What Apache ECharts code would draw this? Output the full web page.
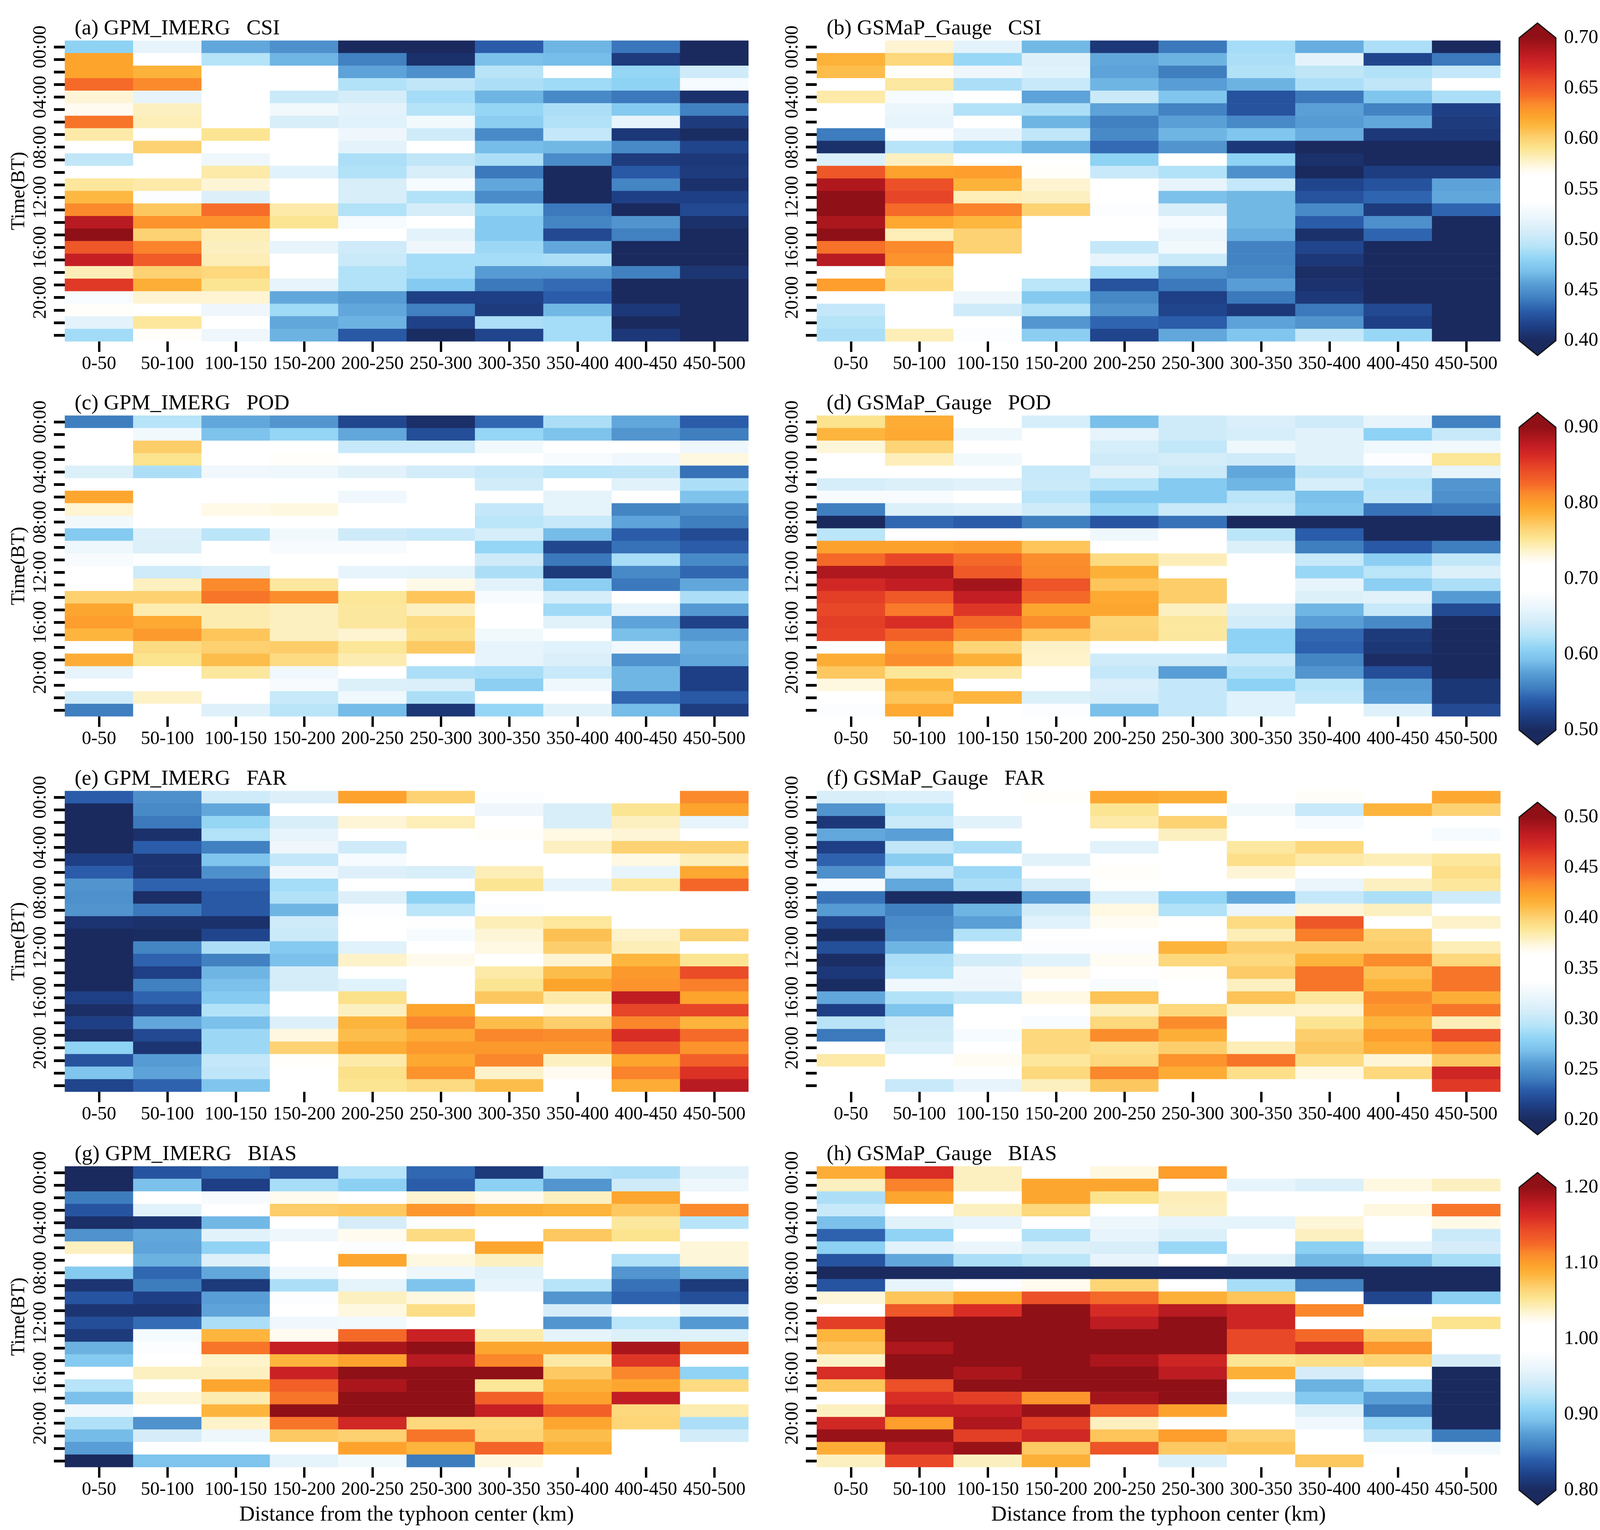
<!DOCTYPE html>
<html><head><meta charset="utf-8">
<style>html,body{margin:0;padding:0;background:#fff}#c{width:4131px;height:3917px}</style>
<script src="https://cdn.jsdelivr.net/npm/echarts@6/dist/echarts.min.js"></script>
</head><body><div id="c"></div>
<script>
const distanceBins=["0-50","50-100","100-150","150-200","200-250","250-300","300-350","350-400","400-450","450-500"];
const timeBins=[];for(let h=0;h<24;h++)timeBins.push(String(h).padStart(2,"0")+":00");
const csiGpm=[
[.48,.52,.46,.45,.40,.40,.43,.465,.439,.40],
[.622,.55,.493,.465,.443,.405,.47,.468,.412,.40],
[.622,.615,.55,.55,.458,.45,.495,.55,.483,.505],
[.643,.634,.55,.55,.492,.498,.49,.486,.48,.53],
[.575,.52,.55,.503,.508,.488,.465,.447,.44,.405],
[.568,.58,.55,.527,.518,.493,.483,.49,.475,.443],
[.64,.582,.55,.51,.515,.527,.478,.492,.52,.412],
[.585,.55,.59,.56,.525,.505,.447,.50,.41,.402],
[.555,.60,.558,.55,.518,.55,.468,.466,.447,.418],
[.498,.55,.525,.55,.49,.498,.49,.448,.412,.41],
[.556,.55,.585,.515,.492,.51,.44,.40,.428,.412],
[.588,.585,.575,.55,.51,.53,.46,.40,.445,.405],
[.612,.535,.513,.55,.51,.492,.448,.40,.415,.415],
[.634,.605,.642,.585,.492,.508,.483,.44,.40,.42],
[.685,.63,.63,.59,.53,.55,.475,.445,.452,.405],
[.70,.60,.582,.55,.55,.518,.475,.42,.443,.40],
[.652,.636,.58,.52,.505,.525,.485,.46,.40,.40],
[.68,.65,.582,.55,.503,.488,.488,.49,.40,.40],
[.582,.60,.597,.558,.492,.488,.455,.455,.443,.408],
[.665,.617,.59,.52,.492,.475,.44,.435,.40,.40],
[.532,.576,.576,.46,.455,.415,.415,.43,.40,.40],
[.565,.558,.525,.486,.46,.443,.412,.466,.41,.40],
[.518,.588,.55,.46,.464,.416,.49,.488,.40,.40],
[.487,.565,.525,.464,.428,.402,.418,.488,.41,.40]];
const csiGsmap=[
[.55,.576,.518,.466,.41,.44,.488,.462,.49,.40],
[.615,.597,.484,.514,.46,.464,.49,.518,.418,.44],
[.61,.565,.525,.515,.458,.442,.492,.498,.492,.50],
[.55,.587,.49,.502,.465,.456,.464,.49,.498,.55],
[.585,.53,.55,.458,.503,.473,.425,.44,.472,.49],
[.55,.522,.492,.49,.458,.444,.425,.457,.444,.415],
[.55,.52,.55,.465,.443,.457,.447,.455,.46,.412],
[.441,.535,.52,.498,.447,.465,.473,.462,.41,.41],
[.405,.494,.485,.465,.435,.452,.41,.40,.40,.40],
[.512,.58,.55,.55,.48,.55,.48,.405,.40,.40],
[.652,.623,.625,.565,.502,.492,.45,.40,.413,.413],
[.688,.655,.615,.576,.55,.52,.50,.418,.425,.458],
[.70,.66,.582,.58,.55,.47,.466,.425,.433,.46],
[.70,.643,.636,.60,.535,.51,.466,.447,.412,.433],
[.69,.62,.613,.55,.55,.53,.466,.43,.45,.40],
[.70,.582,.60,.55,.562,.522,.462,.405,.433,.40],
[.641,.634,.60,.55,.50,.527,.444,.418,.40,.40],
[.685,.63,.562,.55,.52,.503,.444,.41,.40,.40],
[.55,.592,.55,.55,.488,.45,.446,.403,.40,.40],
[.625,.595,.558,.496,.425,.44,.456,.406,.40,.40],
[.55,.55,.525,.475,.446,.415,.44,.41,.40,.40],
[.50,.55,.505,.492,.452,.418,.41,.44,.42,.40],
[.493,.55,.55,.453,.433,.43,.458,.452,.415,.40],
[.49,.582,.535,.478,.418,.46,.473,.50,.484,.40]];
const podGpm=[
[.556,.625,.58,.57,.525,.505,.545,.62,.58,.54],
[.70,.67,.595,.61,.58,.53,.61,.595,.57,.556],
[.70,.77,.70,.70,.635,.635,.67,.70,.69,.665],
[.715,.755,.70,.72,.70,.70,.70,.675,.668,.73],
[.65,.62,.668,.665,.655,.642,.635,.628,.63,.55],
[.685,.70,.70,.685,.70,.695,.642,.685,.655,.62],
[.795,.70,.685,.683,.668,.70,.685,.658,.70,.595],
[.735,.685,.728,.73,.712,.70,.633,.658,.56,.565],
[.67,.70,.70,.70,.70,.70,.628,.635,.578,.556],
[.60,.652,.628,.67,.64,.635,.645,.59,.54,.528],
[.665,.65,.70,.675,.675,.70,.61,.525,.55,.54],
[.675,.68,.70,.70,.70,.70,.64,.553,.618,.563],
[.70,.64,.648,.70,.66,.658,.62,.515,.563,.545],
[.70,.74,.812,.75,.70,.728,.655,.605,.553,.58],
[.768,.768,.82,.81,.752,.775,.675,.645,.70,.62],
[.795,.745,.745,.74,.75,.74,.69,.615,.658,.572],
[.80,.793,.745,.74,.75,.76,.70,.655,.578,.522],
[.785,.802,.775,.74,.735,.757,.67,.69,.592,.572],
[.70,.76,.768,.77,.752,.772,.66,.653,.668,.583],
[.79,.755,.78,.76,.745,.70,.66,.648,.568,.58],
[.66,.70,.75,.668,.685,.62,.618,.635,.587,.52],
[.70,.70,.685,.675,.65,.648,.605,.667,.587,.52],
[.64,.738,.70,.635,.667,.62,.70,.692,.545,.537],
[.556,.70,.652,.627,.59,.512,.61,.655,.59,.518]];
const podGsmap=[
[.755,.79,.70,.645,.592,.64,.648,.64,.66,.558],
[.785,.793,.665,.70,.66,.64,.645,.655,.607,.635],
[.733,.765,.70,.70,.645,.632,.665,.655,.667,.67],
[.70,.742,.67,.70,.64,.643,.64,.655,.68,.752],
[.70,.685,.70,.635,.655,.637,.58,.63,.64,.66],
[.645,.65,.655,.637,.625,.60,.587,.645,.625,.57],
[.675,.675,.70,.628,.60,.60,.627,.593,.63,.567],
[.556,.65,.655,.64,.613,.638,.635,.598,.55,.553],
[.50,.545,.54,.556,.535,.55,.50,.50,.50,.50],
[.628,.715,.70,.70,.667,.70,.628,.54,.50,.50],
[.798,.798,.802,.775,.70,.70,.65,.556,.538,.556],
[.825,.845,.825,.81,.76,.742,.70,.635,.605,.632],
[.885,.885,.835,.812,.788,.70,.70,.612,.628,.65],
[.865,.875,.89,.838,.775,.77,.70,.66,.605,.62],
[.85,.835,.875,.825,.793,.77,.70,.65,.655,.573],
[.845,.818,.855,.795,.795,.74,.65,.587,.635,.528],
[.85,.86,.825,.81,.765,.75,.642,.575,.563,.50],
[.848,.83,.81,.775,.767,.75,.607,.545,.515,.50],
[.70,.802,.765,.738,.70,.70,.607,.542,.512,.50],
[.79,.81,.788,.737,.64,.64,.635,.56,.503,.50],
[.773,.752,.748,.70,.633,.575,.622,.57,.53,.50],
[.73,.785,.715,.70,.648,.633,.607,.628,.572,.512],
[.70,.775,.785,.65,.645,.633,.653,.633,.575,.512],
[.68,.793,.70,.68,.592,.633,.653,.70,.652,.527]];
const farGpm=[
[.23,.25,.305,.313,.423,.40,.335,.35,.35,.434],
[.20,.247,.26,.35,.35,.358,.325,.31,.39,.422],
[.20,.24,.283,.31,.375,.382,.35,.31,.38,.32],
[.20,.205,.292,.32,.35,.355,.365,.372,.375,.35],
[.20,.23,.243,.325,.305,.35,.35,.38,.40,.40],
[.215,.207,.272,.30,.33,.35,.35,.358,.372,.382],
[.23,.207,.25,.325,.313,.31,.382,.35,.32,.42],
[.252,.232,.232,.288,.35,.35,.39,.32,.388,.445],
[.25,.203,.228,.292,.313,.28,.35,.35,.338,.36],
[.252,.24,.228,.265,.335,.296,.335,.35,.35,.35],
[.207,.205,.205,.305,.35,.337,.382,.388,.35,.35],
[.20,.202,.218,.303,.34,.33,.375,.408,.378,.40],
[.20,.245,.29,.275,.315,.35,.372,.402,.382,.358],
[.20,.232,.243,.27,.378,.37,.358,.376,.413,.39],
[.20,.215,.265,.308,.35,.35,.385,.41,.427,.457],
[.20,.243,.27,.308,.315,.362,.39,.422,.43,.437],
[.215,.232,.275,.35,.392,.362,.405,.385,.482,.422],
[.203,.218,.292,.35,.38,.422,.35,.372,.46,.46],
[.215,.26,.27,.313,.414,.435,.41,.402,.435,.414],
[.203,.22,.285,.373,.41,.418,.435,.433,.47,.443],
[.28,.207,.285,.40,.418,.427,.427,.427,.45,.43],
[.225,.255,.30,.365,.385,.42,.435,.38,.422,.448],
[.272,.258,.297,.362,.392,.43,.378,.368,.436,.468],
[.218,.232,.272,.35,.39,.395,.41,.35,.418,.485]];
const farGsmap=[
[.31,.312,.345,.365,.42,.417,.35,.366,.35,.42],
[.252,.293,.358,.35,.39,.35,.327,.302,.414,.40],
[.21,.303,.316,.35,.385,.40,.35,.33,.35,.342],
[.26,.257,.35,.35,.35,.38,.35,.35,.35,.33],
[.215,.298,.29,.36,.316,.35,.387,.397,.35,.35],
[.232,.277,.35,.316,.35,.358,.393,.385,.382,.388],
[.25,.30,.285,.35,.365,.355,.375,.35,.35,.393],
[.33,.26,.29,.31,.364,.35,.35,.322,.38,.388],
[.238,.202,.202,.255,.312,.282,.26,.30,.29,.305],
[.255,.243,.265,.307,.372,.292,.322,.375,.38,.35],
[.218,.248,.257,.315,.367,.364,.395,.452,.35,.378],
[.202,.25,.292,.337,.35,.36,.382,.437,.40,.36],
[.223,.265,.35,.335,.335,.414,.402,.402,.402,.382],
[.203,.29,.307,.315,.367,.397,.397,.414,.433,.397],
[.21,.292,.326,.37,.35,.365,.403,.44,.408,.44],
[.202,.326,.325,.362,.333,.35,.38,.44,.414,.44],
[.26,.292,.30,.372,.407,.35,.407,.388,.433,.417],
[.215,.272,.35,.35,.38,.397,.378,.377,.427,.44],
[.295,.305,.35,.333,.397,.433,.356,.39,.414,.382],
[.24,.306,.33,.397,.433,.417,.356,.402,.425,.455],
[.35,.312,.358,.397,.393,.402,.382,.405,.417,.43],
[.385,.35,.367,.388,.397,.43,.44,.395,.375,.405],
[.357,.35,.35,.397,.435,.418,.393,.372,.397,.475],
[.35,.302,.32,.38,.405,.35,.35,.35,.35,.465]];
const biasGpm=[
[.80,.835,.845,.83,.925,.845,.815,.922,.92,.955],
[.80,.893,.82,.918,.905,.84,.905,.87,.94,.965],
[.855,1.00,.975,1.025,1.012,1.035,1.025,1.04,1.095,1.00],
[.835,.955,1.00,1.07,1.073,1.105,1.088,1.085,1.073,1.112],
[.805,.81,.888,1.00,.945,.98,1.00,1.00,1.05,.925],
[.868,.88,.955,.965,1.025,1.06,1.00,1.073,1.055,1.00],
[1.04,.878,.908,1.00,.98,1.00,1.095,1.00,1.02,1.033],
[1.00,.885,.952,1.01,1.095,1.03,1.04,.985,.922,1.033],
[.90,.845,.88,.967,1.00,.965,.955,1.00,.87,.885],
[.81,.855,.815,.92,.958,.895,.96,.925,.85,.815],
[.835,.82,.875,.98,1.04,1.03,1.00,.87,.843,.83],
[.81,.81,.878,1.00,1.03,1.058,1.018,.945,1.00,.95],
[.83,.848,.92,.968,.97,1.00,1.00,.87,.928,.872],
[.815,.972,1.085,1.025,1.125,1.17,1.045,.958,.95,.953],
[.885,.98,1.12,1.173,1.188,1.20,1.095,1.095,1.188,1.12],
[.90,1.00,1.037,1.085,1.097,1.18,1.113,1.048,1.155,1.00],
[1.018,1.04,1.04,1.17,1.20,1.20,1.20,1.072,1.113,.908],
[.925,1.018,1.095,1.13,1.187,1.20,1.052,1.088,1.095,1.06],
[.893,1.033,1.045,1.12,1.20,1.20,1.13,1.097,1.175,1.00],
[.968,.985,1.085,1.20,1.20,1.20,1.173,1.13,1.063,1.045],
[.922,.868,1.037,1.12,1.165,1.063,1.063,1.095,1.065,.92],
[.89,.945,.965,1.072,1.068,1.12,1.065,1.08,1.01,.942],
[.875,1.00,1.00,1.00,1.097,1.085,1.128,1.088,.988,1.00],
[.80,.895,.895,.958,.97,.855,1.03,1.00,1.005,1.008]];
const biasGsmap=[
[1.09,1.16,1.04,1.005,1.03,1.10,1.00,1.005,1.00,.985],
[1.04,1.115,1.04,1.095,1.095,1.00,.96,.95,1.03,1.04],
[.92,1.095,1.00,1.095,1.055,1.042,1.00,.988,1.00,1.00],
[.935,1.00,1.04,1.063,1.00,1.04,1.00,1.00,1.03,1.12],
[.893,.955,.96,1.00,.965,.96,.958,1.033,.995,1.028],
[.843,.908,1.00,.922,.96,.95,.99,1.04,1.00,.938],
[.905,.955,.963,.95,.947,.912,.995,.905,.958,.945],
[.835,.88,.92,.928,.96,1.00,.955,.888,.895,.918],
[.80,.80,.80,.80,.80,.80,.80,.80,.80,.80],
[.835,.96,.98,1.025,1.065,1.00,.918,.858,.80,.80],
[1.032,1.075,1.095,1.14,1.125,1.088,1.075,1.00,.825,.905],
[1.015,1.135,1.16,1.20,1.162,1.18,1.168,1.113,1.00,1.00],
[1.15,1.20,1.20,1.20,1.178,1.20,1.168,1.005,1.02,1.055],
[1.085,1.20,1.20,1.20,1.20,1.20,1.145,1.125,1.072,1.00],
[1.075,1.185,1.20,1.20,1.20,1.20,1.145,1.165,1.105,1.008],
[1.038,1.20,1.20,1.20,1.187,1.168,1.053,1.058,1.065,.945],
[1.16,1.20,1.187,1.20,1.20,1.178,1.088,.945,1.00,.80],
[1.075,1.14,1.20,1.20,1.20,1.20,.99,.885,.915,.80],
[1.00,1.16,1.15,1.105,1.19,1.20,.955,.90,.875,.80],
[1.04,1.175,1.175,1.195,1.13,1.097,1.00,.95,.855,.80],
[1.165,1.10,1.185,1.15,1.04,.99,1.00,.968,.915,.80],
[1.195,1.195,1.15,1.165,1.075,1.10,1.068,1.01,.932,.855],
[1.09,1.178,1.195,1.072,1.138,1.072,1.075,1.00,.98,.97],
[1.04,1.145,1.04,1.088,1.00,.95,1.01,1.073,1.00,1.00]];
const rampPositions=[0,.05,.10,.14,.19,.23,.27,.31,.36,.41,.46,.545,.57,.60,.635,.67,.71,.74,.78,.81,.86,.90,.935,.97,1];
const rampColors=["#1a2a5e","#1e3f85","#2a5caa","#3f7fc0","#5a9fd6","#7ac0ea","#90d3f5","#b5e3f8","#d5edf9","#ecf6fc","#ffffff","#ffffff","#fff9e8","#fdf0c0","#fce490","#fdd070","#fdb63e","#fda42d","#fb8a2c","#f56a28","#ea4a28","#d82d25","#c41e24","#a8161c","#8f1016"];

const FONT="Liberation Serif";
const LEFT_COL=166,RIGHT_COL=2091,GRID_W=1750,GRID_H=770;
const panels=[
 {t:"(a) GPM_IMERG   CSI",d:csiGpm,l:LEFT_COL,top:104,min:.4,max:.7},
 {t:"(b) GSMaP_Gauge   CSI",d:csiGsmap,l:RIGHT_COL,top:104,min:.4,max:.7},
 {t:"(c) GPM_IMERG   POD",d:podGpm,l:LEFT_COL,top:1064,min:.5,max:.9},
 {t:"(d) GSMaP_Gauge   POD",d:podGsmap,l:RIGHT_COL,top:1064,min:.5,max:.9},
 {t:"(e) GPM_IMERG   FAR",d:farGpm,l:LEFT_COL,top:2025,min:.2,max:.5},
 {t:"(f) GSMaP_Gauge   FAR",d:farGsmap,l:RIGHT_COL,top:2025,min:.2,max:.5},
 {t:"(g) GPM_IMERG   BIAS",d:biasGpm,l:LEFT_COL,top:2986,min:.8,max:1.2},
 {t:"(h) GSMaP_Gauge   BIAS",d:biasGsmap,l:RIGHT_COL,top:2986,min:.8,max:1.2}];
const colorbars=[
 {top:97,min:.4,max:.7,step:.05},
 {top:1094,min:.5,max:.9,step:.1},
 {top:2092,min:.2,max:.5,step:.05},
 {top:3040,min:.8,max:1.2,step:.1}];

function rampList(n){
 const out=[];
 for(let i=0;i<=n;i++){const p=i/n;let k=0;
  while(k<rampPositions.length-2&&p>rampPositions[k+1])k++;
  const f=(p-rampPositions[k])/(rampPositions[k+1]-rampPositions[k]);
  out.push(echarts.color.lerp(f,[rampColors[k],rampColors[k+1]]));}
 return out;
}
const list=rampList(200);
const grid=[],xAxis=[],yAxis=[],series=[],visualMap=[],title=[];
panels.forEach((p,i)=>{
 const isLeft=p.l===LEFT_COL,isBottom=i>=6;
 grid.push({left:p.l,top:p.top,width:GRID_W,height:GRID_H,containLabel:false});
 title.push({text:p.t,left:p.l+25,top:p.top-58,padding:0,textStyle:{fontFamily:FONT,fontSize:55,fontWeight:"normal",color:"#000"}});
 xAxis.push({type:"category",gridIndex:i,data:distanceBins,position:"bottom",
  axisLine:{show:false},splitLine:{show:false},
  axisTick:{show:true,interval:0,alignWithLabel:true,length:27,lineStyle:{color:"#000",width:6}},
  axisLabel:{interval:0,margin:34,fontFamily:FONT,fontSize:48,color:"#000"},
  name:isBottom?"Distance from the typhoon center (km)":"",nameLocation:"middle",nameGap:95,
  nameTextStyle:{fontFamily:FONT,fontSize:55,color:"#000"}});
 yAxis.push({type:"category",gridIndex:i,data:timeBins,inverse:true,
  axisLine:{show:false},splitLine:{show:false},
  axisTick:{show:true,interval:0,alignWithLabel:true,length:28,lineStyle:{color:"#000",width:7}},
  axisLabel:{interval:3,rotate:90,margin:38,fontFamily:FONT,fontSize:48,color:"#000"},
  name:isLeft?"Time(BT)":"",nameLocation:"middle",nameRotate:90,nameGap:92,
  nameTextStyle:{fontFamily:FONT,fontSize:50,color:"#000"}});
 const cells=[];
 p.d.forEach((row,y)=>row.forEach((v,x)=>cells.push([x,y,v])));
 series.push({type:"heatmap",xAxisIndex:i,yAxisIndex:i,data:cells,silent:true,progressive:0,
  itemStyle:{borderWidth:0},emphasis:{disabled:true}});
 visualMap.push({show:false,seriesIndex:i,dimension:2,min:p.min,max:p.max,inRange:{color:list}});
});
colorbars.forEach((c,j)=>{
 const g=panels.length+j;
 grid.push({left:3889,top:c.top,width:94,height:775});
 xAxis.push({type:"value",gridIndex:g,min:0,max:1,show:false});
 yAxis.push({type:"value",gridIndex:g,min:c.min,max:c.max,interval:c.step,position:"right",
  axisLine:{show:false},splitLine:{show:false},
  axisTick:{show:true,length:11,lineStyle:{color:"#000",width:3}},
  axisLabel:{margin:21,fontFamily:FONT,fontSize:50,color:"#000",formatter:v=>v.toFixed(2)}});
 const ext=(c.max-c.min)*38/775;
 const stops=[{offset:0,color:rampColors[rampColors.length-1]}];
 const span=775+76;
 for(let k=rampPositions.length-1;k>=0;k--)
  stops.push({offset:(38+(1-rampPositions[k])*775)/span,color:rampColors[k]});
 stops.push({offset:1,color:rampColors[0]});
 series.push({type:"custom",xAxisIndex:g,yAxisIndex:g,clip:false,silent:true,data:[[0]],z:5,
  renderItem:(params,api)=>{
   const pts=[[0,c.max],[.5,c.max+ext],[1,c.max],[1,c.min],[.5,c.min-ext],[0,c.min]].map(q=>api.coord(q));
   return {type:"polygon",shape:{points:pts},style:{
     fill:new echarts.graphic.LinearGradient(0,0,0,1,stops),stroke:"#111",lineWidth:3}};
  }});
});
const chart=echarts.init(document.getElementById("c"),null,{renderer:"canvas",devicePixelRatio:1,width:4131,height:3917});
chart.setOption({animation:false,backgroundColor:"#fff",tooltip:{show:false},title,grid,xAxis,yAxis,visualMap,series});
</script></body></html>
